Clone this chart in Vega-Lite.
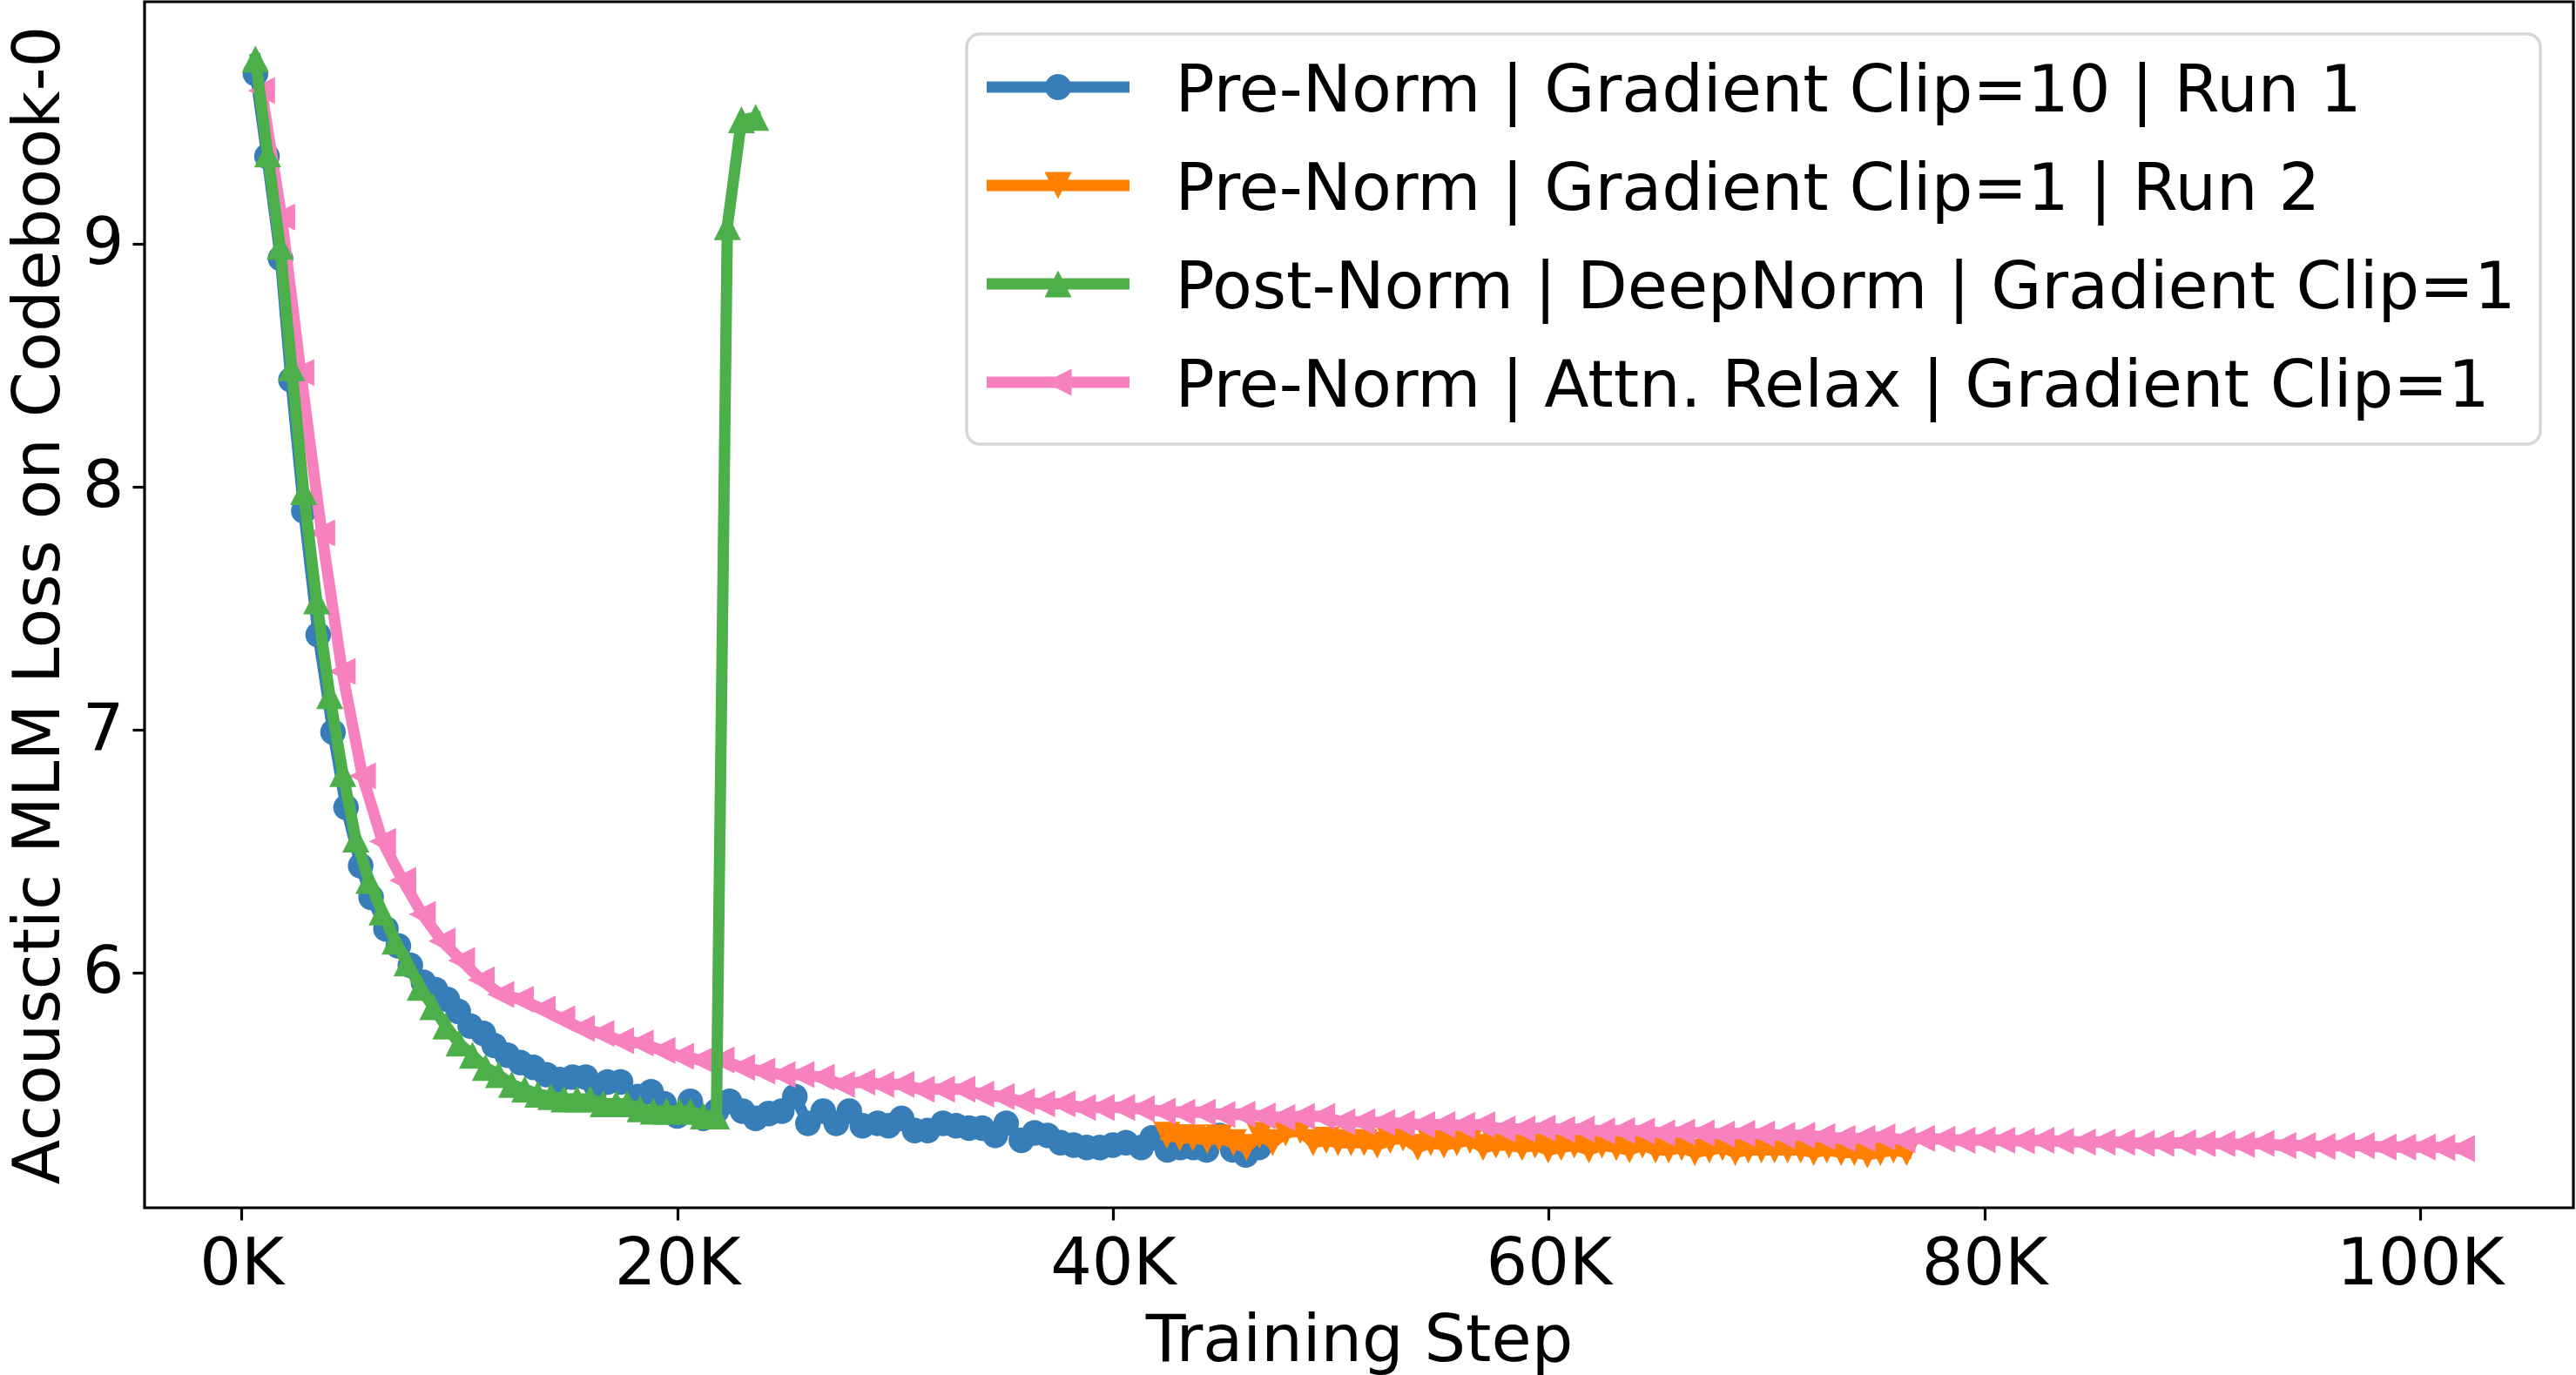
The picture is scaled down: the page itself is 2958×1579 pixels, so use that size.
{
  "$schema": "https://vega.github.io/schema/vega-lite/v6.json",
  "width": 2789,
  "height": 1385,
  "autosize": {"type": "none"},
  "padding": {"left": 166, "top": 2, "right": 3, "bottom": 192},
  "background": "white",
  "config": {
    "font": "DejaVu Sans",
    "view": {"stroke": "black", "strokeWidth": 3.2},
    "axis": {
      "domain": false,
      "grid": false,
      "tickColor": "black",
      "tickWidth": 3.2,
      "tickSize": 14,
      "labelFont": "DejaVu Sans",
      "labelFontSize": 75,
      "labelColor": "black",
      "labelLimit": 1000,
      "titleFont": "DejaVu Sans",
      "titleFontSize": 75,
      "titleFontWeight": "normal",
      "titleColor": "black"
    },
    "legend": {"strokeWidth": 3.5}
  },
  "datasets": {
    "run1": [
      {"step": 640, "loss": 9.70}, {"step": 1170, "loss": 9.36}, {"step": 1790, "loss": 8.94}, {"step": 2270, "loss": 8.44},
      {"step": 2860, "loss": 7.90}, {"step": 3520, "loss": 7.39}, {"step": 4200, "loss": 6.99}, {"step": 4800, "loss": 6.68},
      {"step": 5470, "loss": 6.44}, {"step": 5950, "loss": 6.31}, {"step": 6630, "loss": 6.18}, {"step": 7200, "loss": 6.11},
      {"step": 7750, "loss": 6.03}, {"step": 8350, "loss": 5.96}, {"step": 8900, "loss": 5.93}, {"step": 9450, "loss": 5.89},
      {"step": 9950, "loss": 5.84}, {"step": 10500, "loss": 5.78}, {"step": 11100, "loss": 5.75}, {"step": 11600, "loss": 5.70},
      {"step": 12200, "loss": 5.66}, {"step": 12800, "loss": 5.63}, {"step": 13400, "loss": 5.61}, {"step": 14000, "loss": 5.58},
      {"step": 14600, "loss": 5.56}, {"step": 15200, "loss": 5.57}, {"step": 15800, "loss": 5.57}, {"step": 16300, "loss": 5.53},
      {"step": 16800, "loss": 5.55}, {"step": 17400, "loss": 5.55}, {"step": 18200, "loss": 5.49}, {"step": 18800, "loss": 5.51},
      {"step": 19400, "loss": 5.46}, {"step": 20000, "loss": 5.41}, {"step": 20600, "loss": 5.47}, {"step": 21200, "loss": 5.40},
      {"step": 21800, "loss": 5.43}, {"step": 22400, "loss": 5.47}, {"step": 23000, "loss": 5.43}, {"step": 23600, "loss": 5.40},
      {"step": 24200, "loss": 5.42}, {"step": 24800, "loss": 5.43}, {"step": 25400, "loss": 5.49}, {"step": 26000, "loss": 5.38},
      {"step": 26700, "loss": 5.43}, {"step": 27300, "loss": 5.38}, {"step": 27900, "loss": 5.43}, {"step": 28500, "loss": 5.37},
      {"step": 29200, "loss": 5.38}, {"step": 29700, "loss": 5.37}, {"step": 30300, "loss": 5.40}, {"step": 30900, "loss": 5.35},
      {"step": 31500, "loss": 5.35}, {"step": 32200, "loss": 5.38}, {"step": 32800, "loss": 5.37}, {"step": 33400, "loss": 5.36},
      {"step": 34000, "loss": 5.36}, {"step": 34600, "loss": 5.33}, {"step": 35100, "loss": 5.38}, {"step": 35800, "loss": 5.31},
      {"step": 36400, "loss": 5.34}, {"step": 37000, "loss": 5.33}, {"step": 37600, "loss": 5.30}, {"step": 38200, "loss": 5.29},
      {"step": 38800, "loss": 5.28}, {"step": 39400, "loss": 5.28}, {"step": 40000, "loss": 5.29}, {"step": 40600, "loss": 5.30},
      {"step": 41300, "loss": 5.28}, {"step": 41800, "loss": 5.32}, {"step": 42500, "loss": 5.27}, {"step": 43100, "loss": 5.28},
      {"step": 43700, "loss": 5.28}, {"step": 44300, "loss": 5.27}, {"step": 44900, "loss": 5.33}, {"step": 45500, "loss": 5.27},
      {"step": 46100, "loss": 5.25}, {"step": 46700, "loss": 5.28}
    ],
    "run2": [
      {"step": 42470, "loss": 5.33}, {"step": 43070, "loss": 5.32}, {"step": 43670, "loss": 5.32}, {"step": 44330, "loss": 5.31},
      {"step": 44870, "loss": 5.32}, {"step": 45530, "loss": 5.30}, {"step": 46130, "loss": 5.28}, {"step": 46730, "loss": 5.33},
      {"step": 47330, "loss": 5.30}, {"step": 47930, "loss": 5.34}, {"step": 48600, "loss": 5.35}, {"step": 49190, "loss": 5.30},
      {"step": 49790, "loss": 5.31}, {"step": 50330, "loss": 5.30}, {"step": 50930, "loss": 5.30}, {"step": 51530, "loss": 5.30},
      {"step": 52130, "loss": 5.29}, {"step": 52730, "loss": 5.31}, {"step": 53320, "loss": 5.32}, {"step": 53990, "loss": 5.28},
      {"step": 54590, "loss": 5.30}, {"step": 55190, "loss": 5.29}, {"step": 55790, "loss": 5.30}, {"step": 56390, "loss": 5.31},
      {"step": 56990, "loss": 5.28}, {"step": 57580, "loss": 5.29}, {"step": 58180, "loss": 5.29}, {"step": 58780, "loss": 5.28},
      {"step": 59380, "loss": 5.29}, {"step": 59980, "loss": 5.27}, {"step": 60580, "loss": 5.28}, {"step": 61180, "loss": 5.29},
      {"step": 61850, "loss": 5.27}, {"step": 62450, "loss": 5.29}, {"step": 63110, "loss": 5.28}, {"step": 63710, "loss": 5.27},
      {"step": 64310, "loss": 5.29}, {"step": 64910, "loss": 5.27}, {"step": 65510, "loss": 5.27}, {"step": 66110, "loss": 5.28},
      {"step": 66710, "loss": 5.26}, {"step": 67380, "loss": 5.27}, {"step": 67980, "loss": 5.28}, {"step": 68570, "loss": 5.26},
      {"step": 69170, "loss": 5.27}, {"step": 69770, "loss": 5.27}, {"step": 70370, "loss": 5.27}, {"step": 70970, "loss": 5.27},
      {"step": 71570, "loss": 5.27}, {"step": 72170, "loss": 5.26}, {"step": 72770, "loss": 5.27}, {"step": 73430, "loss": 5.26},
      {"step": 74030, "loss": 5.26}, {"step": 74630, "loss": 5.25}, {"step": 75230, "loss": 5.26}, {"step": 75830, "loss": 5.27},
      {"step": 76430, "loss": 5.26}
    ],
    "postnorm": [
      {"step": 640, "loss": 9.76}, {"step": 1200, "loss": 9.37}, {"step": 1770, "loss": 8.99}, {"step": 2300, "loss": 8.49},
      {"step": 2850, "loss": 7.98}, {"step": 3450, "loss": 7.53}, {"step": 4050, "loss": 7.14}, {"step": 4650, "loss": 6.82},
      {"step": 5250, "loss": 6.55}, {"step": 5850, "loss": 6.38}, {"step": 6450, "loss": 6.25}, {"step": 7050, "loss": 6.13},
      {"step": 7600, "loss": 6.04}, {"step": 8200, "loss": 5.94}, {"step": 8780, "loss": 5.86}, {"step": 9380, "loss": 5.78},
      {"step": 9980, "loss": 5.71}, {"step": 10600, "loss": 5.66}, {"step": 11200, "loss": 5.61}, {"step": 11800, "loss": 5.58},
      {"step": 12400, "loss": 5.54}, {"step": 13000, "loss": 5.52}, {"step": 13600, "loss": 5.50}, {"step": 14200, "loss": 5.49},
      {"step": 14800, "loss": 5.48}, {"step": 15400, "loss": 5.48}, {"step": 16000, "loss": 5.48}, {"step": 16600, "loss": 5.46},
      {"step": 17200, "loss": 5.46}, {"step": 17700, "loss": 5.46}, {"step": 18300, "loss": 5.44}, {"step": 18900, "loss": 5.43},
      {"step": 19500, "loss": 5.43}, {"step": 20100, "loss": 5.43}, {"step": 20600, "loss": 5.43}, {"step": 21200, "loss": 5.41},
      {"step": 21800, "loss": 5.41}, {"step": 22300, "loss": 9.07}, {"step": 22950, "loss": 9.51}, {"step": 23600, "loss": 9.52}
    ],
    "relax": [
      {"step": 920, "loss": 9.63}, {"step": 1840, "loss": 9.11}, {"step": 2720, "loss": 8.47}, {"step": 3680, "loss": 7.81},
      {"step": 4620, "loss": 7.24}, {"step": 5550, "loss": 6.81}, {"step": 6470, "loss": 6.54}, {"step": 7400, "loss": 6.38},
      {"step": 8300, "loss": 6.24}, {"step": 9200, "loss": 6.13}, {"step": 10100, "loss": 6.05}, {"step": 11000, "loss": 5.97},
      {"step": 11900, "loss": 5.91}, {"step": 12800, "loss": 5.89}, {"step": 13800, "loss": 5.85}, {"step": 14700, "loss": 5.81},
      {"step": 15600, "loss": 5.77}, {"step": 16500, "loss": 5.75}, {"step": 17400, "loss": 5.72}, {"step": 18300, "loss": 5.71},
      {"step": 19300, "loss": 5.68}, {"step": 20150, "loss": 5.656}, {"step": 21080, "loss": 5.64}, {"step": 22010, "loss": 5.64},
      {"step": 22950, "loss": 5.61}, {"step": 23880, "loss": 5.595}, {"step": 24810, "loss": 5.58}, {"step": 25680, "loss": 5.58},
      {"step": 26610, "loss": 5.57}, {"step": 27540, "loss": 5.54}, {"step": 28470, "loss": 5.55}, {"step": 29340, "loss": 5.54},
      {"step": 30270, "loss": 5.54}, {"step": 31200, "loss": 5.52}, {"step": 32130, "loss": 5.52}, {"step": 33070, "loss": 5.52},
      {"step": 33930, "loss": 5.50}, {"step": 34870, "loss": 5.49}, {"step": 35800, "loss": 5.47}, {"step": 36730, "loss": 5.46},
      {"step": 37660, "loss": 5.46}, {"step": 38600, "loss": 5.445}, {"step": 39460, "loss": 5.445}, {"step": 40400, "loss": 5.445},
      {"step": 41300, "loss": 5.44}, {"step": 42260, "loss": 5.43}, {"step": 43160, "loss": 5.425}, {"step": 44100, "loss": 5.425},
      {"step": 45000, "loss": 5.416}, {"step": 45920, "loss": 5.417}, {"step": 46850, "loss": 5.41}, {"step": 47750, "loss": 5.404},
      {"step": 48650, "loss": 5.408}, {"step": 49580, "loss": 5.408}, {"step": 50510, "loss": 5.386}, {"step": 51420, "loss": 5.386},
      {"step": 52340, "loss": 5.383}, {"step": 53240, "loss": 5.38}, {"step": 54170, "loss": 5.374}, {"step": 55100, "loss": 5.374},
      {"step": 56010, "loss": 5.372}, {"step": 56930, "loss": 5.374}, {"step": 57860, "loss": 5.356}, {"step": 58770, "loss": 5.356},
      {"step": 59700, "loss": 5.36}, {"step": 60600, "loss": 5.355}, {"step": 61500, "loss": 5.356}, {"step": 62430, "loss": 5.348},
      {"step": 63350, "loss": 5.35}, {"step": 64260, "loss": 5.348}, {"step": 65190, "loss": 5.34}, {"step": 66100, "loss": 5.344},
      {"step": 67000, "loss": 5.34}, {"step": 67930, "loss": 5.336}, {"step": 68860, "loss": 5.338}, {"step": 69770, "loss": 5.336},
      {"step": 70700, "loss": 5.33}, {"step": 71620, "loss": 5.33}, {"step": 72540, "loss": 5.325}, {"step": 73460, "loss": 5.318},
      {"step": 74380, "loss": 5.318}, {"step": 75300, "loss": 5.324}, {"step": 76220, "loss": 5.312}, {"step": 77120, "loss": 5.318},
      {"step": 78050, "loss": 5.314}, {"step": 78970, "loss": 5.31}, {"step": 79900, "loss": 5.312}, {"step": 80800, "loss": 5.31},
      {"step": 81700, "loss": 5.308}, {"step": 82600, "loss": 5.31}, {"step": 83500, "loss": 5.306}, {"step": 84500, "loss": 5.303},
      {"step": 85400, "loss": 5.303}, {"step": 86300, "loss": 5.302}, {"step": 87200, "loss": 5.297}, {"step": 88100, "loss": 5.297},
      {"step": 89100, "loss": 5.30}, {"step": 90000, "loss": 5.296}, {"step": 90900, "loss": 5.296}, {"step": 91800, "loss": 5.293},
      {"step": 92700, "loss": 5.297}, {"step": 93700, "loss": 5.288}, {"step": 94600, "loss": 5.288}, {"step": 95500, "loss": 5.285},
      {"step": 96400, "loss": 5.288}, {"step": 97300, "loss": 5.288}, {"step": 98300, "loss": 5.282}, {"step": 99200, "loss": 5.282},
      {"step": 100100, "loss": 5.282}, {"step": 101000, "loss": 5.28}, {"step": 101900, "loss": 5.276}
    ]
  },
  "encoding": {
    "x": {
      "field": "step",
      "type": "quantitative",
      "scale": {"domain": [-4450, 107040], "nice": false, "zero": false},
      "axis": {
        "values": [0, 20000, 40000, 60000, 80000, 100000],
        "labelExpr": "datum.value / 1000 + 'K'",
        "title": "Training Step",
        "labelPadding": 14,
        "titlePadding": 14,
        "labelFlush": false,
        "labelOverlap": false
      }
    },
    "y": {
      "field": "loss",
      "type": "quantitative",
      "scale": {"domain": [5.032, 9.996], "nice": false, "zero": false},
      "axis": {
        "values": [6, 7, 8, 9],
        "title": "Acousctic MLM Loss on Codebook-0",
        "labelPadding": 10,
        "titlePadding": 11
      }
    }
  },
  "layer": [
    {
      "data": {"name": "run1"},
      "mark": {"type": "line", "color": "#377eb8", "strokeWidth": 13, "strokeJoin": "round", "strokeCap": "square"}
    },
    {
      "data": {"name": "run1"},
      "mark": {"type": "point", "color": "#377eb8", "shape": "M-0.95,0A0.95,0.95 0 1,1 0.95,0A0.95,0.95 0 1,1 -0.95,0Z", "filled": true, "size": 961, "opacity": 1, "strokeWidth": 0}
    },
    {
      "data": {"name": "run2"},
      "mark": {"type": "line", "color": "#ff7f00", "strokeWidth": 13, "strokeJoin": "round", "strokeCap": "square"}
    },
    {
      "data": {"name": "run2"},
      "mark": {"type": "point", "color": "#ff7f00", "shape": "M-1,-1L1,-1L0,1Z", "filled": true, "size": 961, "opacity": 1, "strokeWidth": 0}
    },
    {
      "data": {"name": "relax"},
      "mark": {"type": "line", "color": "#f781bf", "strokeWidth": 13, "strokeJoin": "round", "strokeCap": "square"}
    },
    {
      "data": {"name": "relax"},
      "mark": {"type": "point", "color": "#f781bf", "shape": "M-1,0L1,-1L1,1Z", "filled": true, "size": 961, "opacity": 1, "strokeWidth": 0}
    },
    {
      "data": {"name": "postnorm"},
      "mark": {"type": "line", "color": "#4daf4a", "strokeWidth": 13, "strokeJoin": "round", "strokeCap": "square"}
    },
    {
      "data": {"name": "postnorm"},
      "mark": {"type": "point", "color": "#4daf4a", "shape": "M0,-1L1,1L-1,1Z", "filled": true, "size": 961, "opacity": 1, "strokeWidth": 0}
    },
    {
      "data": {"name": "run1"},
      "transform": [{"filter": "false"}],
      "mark": {"type": "point", "filled": true, "size": 1600, "opacity": 1, "strokeWidth": 0},
      "encoding": {
        "color": {
          "datum": "Pre-Norm | Gradient Clip=10 | Run 1",
          "type": "nominal",
          "scale": {
            "domain": ["Pre-Norm | Gradient Clip=10 | Run 1", "Pre-Norm | Gradient Clip=1 | Run 2", "Post-Norm | DeepNorm | Gradient Clip=1", "Pre-Norm | Attn. Relax | Gradient Clip=1"],
            "range": ["#377eb8", "#ff7f00", "#4daf4a", "#f781bf"]
          },
          "legend": {
            "title": null,
            "orient": "none",
            "direction": "vertical",
            "legendX": 944,
            "legendY": 37,
            "padding": 28,
            "rowPadding": 37,
            "symbolSize": 1600,
            "symbolOffset": 39.5,
            "symbolStrokeWidth": 0,
            "symbolOpacity": 1,
            "labelOffset": 97,
            "labelFont": "DejaVu Sans",
            "labelFontSize": 75,
            "labelColor": "black",
            "labelLimit": 3000,
            "labelBaseline": "middle",
            "strokeColor": "#d6d6d6",
            "fillColor": "white",
            "cornerRadius": 15
          }
        },
        "shape": {
          "datum": "Pre-Norm | Gradient Clip=10 | Run 1",
          "type": "nominal",
          "scale": {
            "domain": ["Pre-Norm | Gradient Clip=10 | Run 1", "Pre-Norm | Gradient Clip=1 | Run 2", "Post-Norm | DeepNorm | Gradient Clip=1", "Pre-Norm | Attn. Relax | Gradient Clip=1"],
            "range": [
              "M-4.1,-0.55H4.1V0.1H-4.1Z M-0.75,-0.225A0.75,0.75 0 1,1 0.75,-0.225A0.75,0.75 0 1,1 -0.75,-0.225Z",
              "M-4.1,-0.55H4.1V0.1H-4.1Z M-0.775,-1L0.775,-1L0,0.55Z",
              "M-4.1,-0.55H4.1V0.1H-4.1Z M0,-1L0.775,0.55L-0.775,0.55Z",
              "M-4.1,-0.55H4.1V0.1H-4.1Z M-0.775,-0.225L0.775,-1L0.775,0.55Z"
            ]
          }
        }
      }
    }
  ]
}
